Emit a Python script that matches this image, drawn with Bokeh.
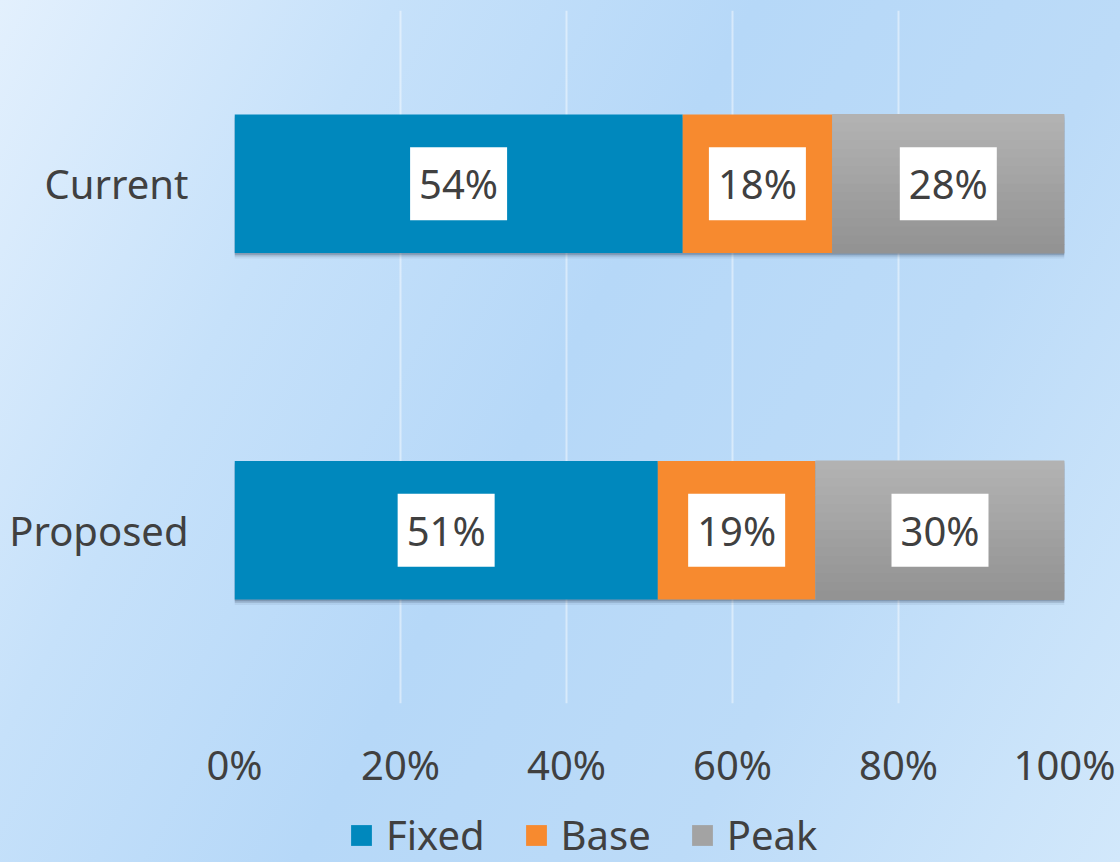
from bokeh.plotting import figure
from bokeh.layouts import column
from bokeh.models import (ColumnDataSource, FactorRange, FixedTicker, NumeralTickFormatter,
                          Legend, LegendItem, GlobalInlineStyleSheet, Range1d)
from bokeh.transform import dodge
from bokeh.core.properties import value
from bokeh.embed import file_html
from bokeh.resources import INLINE

categories = ["Current", "Proposed"]
series = ["Fixed", "Base", "Peak"]
fixed = [0.54, 0.51]
base = [0.18, 0.19]
peak = [0.28, 0.30]
tick_values = [0, 0.2, 0.4, 0.6, 0.8, 1.0]

colors = {"Fixed": "#0088bd", "Base": "#f78a2f", "Peak": "#a3a3a3"}
TXT = "#404040"
FONT = "Noto Sans"

total = [f + b + k for f, b, k in zip(fixed, base, peak)]
src = ColumnDataSource(dict(cat=categories, Fixed=fixed, Base=base, Peak=peak, total=total,
                            zero=[0.0] * len(categories)))

p = figure(width=1120, height=800, output_backend="svg", toolbar_location=None,
           y_range=FactorRange(factors=list(reversed(categories))),
           x_range=(0, 1))
p.min_border_left = 234
p.min_border_right = 56
p.min_border_top = 10
p.min_border_bottom = 97
p.outline_line_color = None
p.background_fill_color = None
p.border_fill_color = None

grad = ("html, body { height: 100%; } "
        "html { background: linear-gradient(118deg, #e3f0fd 0%, #c6e1fa 25%, #b6d8f8 48%, "
        "#bcdbf8 72%, #d2e8fb 100%) !important; } body { background: transparent !important; }")
p.stylesheets = [GlobalInlineStyleSheet(css=grad)]

BH = 0.4
# shadow
for off, a in [(0.005, 0.22), (0.010, 0.14), (0.016, 0.07)]:
    p.hbar(y=dodge("cat", -off, range=p.y_range), left="zero",
           right=dodge("total", off * 0.45, range=p.x_range), height=BH,
           source=src, fill_color="#1a2a40", fill_alpha=a, line_color=None)

rs = p.hbar_stack(series, y="cat", height=BH, source=src,
                  color=[colors[s] for s in series], line_color=None)

# gradient on Peak segment
left_peak = [f + b for f, b in zip(fixed, base)]
gsrc = ColumnDataSource(dict(cat=categories, left=left_peak, right=total))
n = 16
c0 = (0xb3, 0xb3, 0xb3)
c1 = (0x92, 0x92, 0x92)
for i in range(n):
    t = (i + 0.5) / n
    col = "#%02x%02x%02x" % tuple(int(round(c0[k] + (c1[k] - c0[k]) * t)) for k in range(3))
    yo = BH / 2 - (i + 0.5) * BH / n
    p.hbar(y=dodge("cat", yo, range=p.y_range), left="left", right="right",
           height=BH / n * 1.08, source=gsrc, fill_color=col, line_color=None)

# data labels
lx, ly, lt = [], [], []
for ci, c in enumerate(categories):
    start = 0.0
    for s, vals in zip(series, [fixed, base, peak]):
        v = vals[ci]
        lx.append(start + v / 2)
        ly.append(c)
        lt.append("%d%%" % round(v * 100))
        start += v
lsrc = ColumnDataSource(dict(x=lx, y=ly, t=lt))
p.text(x="x", y="y", text="t", source=lsrc, text_align="center", text_baseline="middle",
       text_font=value(FONT), text_font_size="40px", text_color=TXT,
       background_fill_color="white", padding=9)

# axes
p.xaxis.ticker = FixedTicker(ticks=tick_values)
p.xaxis.formatter = NumeralTickFormatter(format="0%")
for ax in (p.xaxis[0], p.yaxis[0]):
    ax.axis_line_color = None
    ax.major_tick_line_color = None
    ax.minor_tick_line_color = None
    ax.major_label_text_font = FONT
    ax.major_label_text_font_size = "40px"
    ax.major_label_text_color = TXT
p.xaxis.major_label_standoff = 27
p.yaxis.major_label_standoff = 40

p.xgrid.ticker = FixedTicker(ticks=tick_values)
p.xgrid.grid_line_color = "white"
p.xgrid.grid_line_alpha = 0.45
p.xgrid.grid_line_width = 2
p.ygrid.grid_line_color = None

# legend strip below the chart (its frame is aligned with the chart's frame)
pl = figure(width=1120, height=62, output_backend="svg", toolbar_location=None,
            x_range=Range1d(0, 1), y_range=FactorRange(factors=list(reversed(categories))),
            x_axis_location=None, y_axis_location=None, min_border=0)
pl.outline_line_color = None
pl.background_fill_color = None
pl.border_fill_color = None
pl.grid.grid_line_color = None
lrs = pl.hbar_stack(series, y="cat", height=BH, source=src,
                    color=[colors[s] for s in series], line_color=None)
for r in lrs:
    r.visible = False
legend = Legend(items=[LegendItem(label=s, renderers=[r]) for s, r in zip(series, lrs)],
                location=(114, 0), orientation="horizontal", click_policy="none",
                background_fill_alpha=0, border_line_color=None,
                glyph_width=26, glyph_height=26, label_standoff=12, spacing=38,
                padding=0, margin=0,
                label_text_font=FONT, label_text_font_size="40px", label_text_color=TXT)
pl.add_layout(legend, "center")

layout = column(p, pl, spacing=0)
open("out.html", "w").write(file_html(layout, INLINE))
